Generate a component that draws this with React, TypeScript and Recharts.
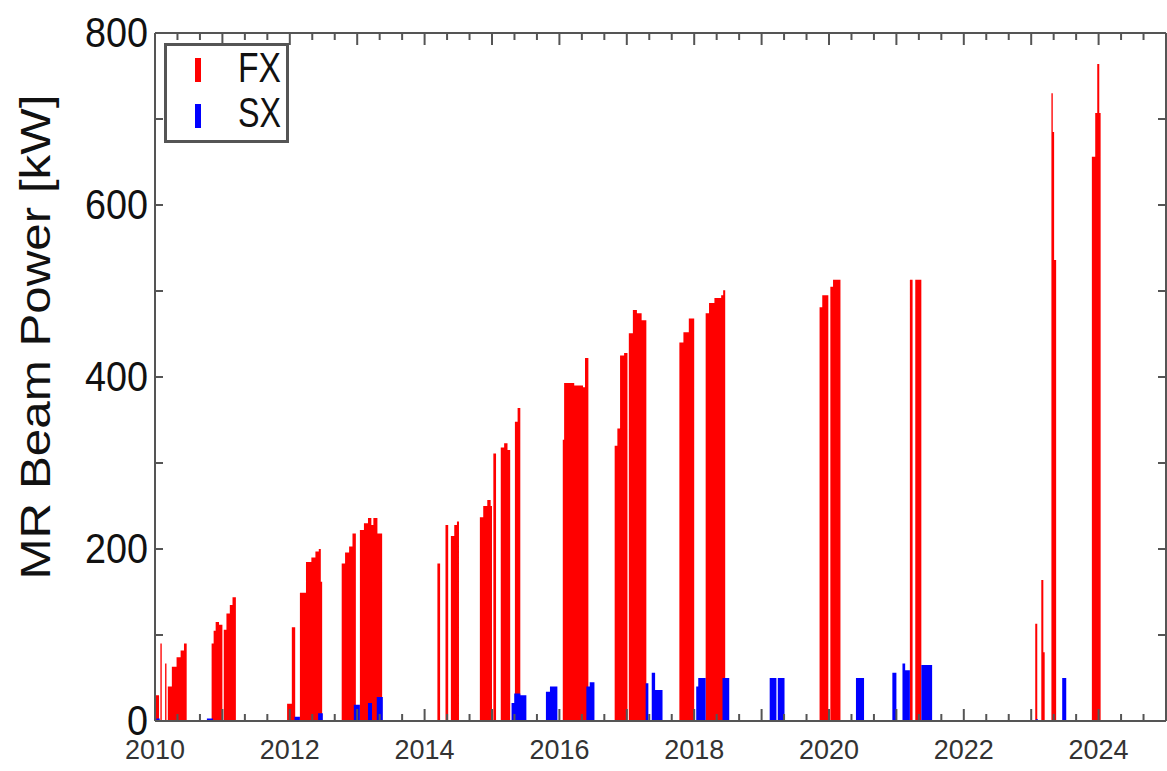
import React from 'react';
import { ComposedChart, Area, XAxis, YAxis, Legend } from 'recharts';

const fxYear = [
  2010.0, 2010.06, 2010.08, 2010.1, 2010.15, 2010.17, 2010.19, 2010.25, 2010.32, 2010.38, 2010.43, 2010.47,
  2010.84, 2010.87, 2010.9, 2010.95, 2011.0, 2011.02, 2011.06, 2011.11, 2011.15, 2011.2,
  2011.96, 2012.03, 2012.08, 2012.15, 2012.24, 2012.32, 2012.38, 2012.43, 2012.46, 2012.48,
  2012.77, 2012.82, 2012.88, 2012.93, 2012.98, 2013.04, 2013.1, 2013.16, 2013.21, 2013.24, 2013.3, 2013.37,
  2014.19, 2014.23, 2014.31, 2014.35, 2014.39, 2014.44, 2014.48, 2014.51,
  2014.82, 2014.87, 2014.93, 2014.98, 2015.0, 2015.02, 2015.06, 2015.13, 2015.18, 2015.23, 2015.27, 2015.34, 2015.38, 2015.42,
  2016.05, 2016.07, 2016.22, 2016.35, 2016.38, 2016.43,
  2016.82, 2016.86, 2016.9, 2016.96, 2017.01, 2017.03, 2017.09, 2017.15, 2017.22, 2017.29,
  2017.78, 2017.84, 2017.92, 2018.0, 2018.17, 2018.22, 2018.3, 2018.4, 2018.43, 2018.46,
  2019.86, 2019.9, 2019.99, 2020.02, 2020.06, 2020.17,
  2021.2, 2021.24, 2021.28, 2021.37,
  2023.06, 2023.09, 2023.15, 2023.18, 2023.2, 2023.3, 2023.32, 2023.34, 2023.37,
  2023.9, 2023.95, 2023.98, 2024.01, 2024.03,
];
const fxPower = [
  30, 0, 90, 0, 67, 0, 40, 63, 74, 82, 90, 0,
  90, 105, 115, 112, 0, 106, 125, 135, 144, 0,
  20, 109, 0, 149, 185, 190, 197, 200, 162, 0,
  183, 196, 203, 218, 0, 222, 230, 236, 228, 236, 218, 0,
  183, 0, 228, 0, 215, 228, 232, 0,
  237, 250, 257, 250, 0, 311, 0, 318, 323, 315, 0, 348, 364, 0,
  327, 393, 390, 388, 422, 0,
  320, 340, 425, 428, 0, 451, 478, 474, 466, 0,
  440, 452, 468, 0, 474, 486, 492, 495, 501, 0,
  481, 495, 0, 505, 513, 0,
  513, 0, 513, 0,
  113, 0, 164, 80, 0, 730, 685, 536, 0,
  656, 707, 764, 707, 0,
];

// SX (slow extraction) beam power
const sxYear = [
  2010.02, 2010.07, 2010.77, 2010.86, 2012.07, 2012.15, 2012.42, 2012.49,
  2012.95, 2013.04, 2013.16, 2013.22, 2013.29, 2013.38,
  2015.29, 2015.33, 2015.42, 2015.51, 2015.8, 2015.86, 2015.97, 2016.4, 2016.45, 2016.52,
  2017.28, 2017.32, 2017.37, 2017.42, 2017.53, 2018.03, 2018.06, 2018.17, 2018.42, 2018.52,
  2019.12, 2019.22, 2019.24, 2019.34, 2020.4, 2020.52,
  2020.94, 2021.0, 2021.09, 2021.13, 2021.2, 2021.37, 2021.53,
  2023.07, 2023.1, 2023.46, 2023.52,
];
const sxPower = [
  3, 0, 3, 0, 5, 0, 9, 0,
  19, 0, 21, 0, 28, 0,
  21, 32, 30, 0, 34, 40, 0, 40, 45, 0,
  44, 0, 56, 36, 0, 40, 50, 0, 50, 0,
  50, 0, 50, 0, 50, 0,
  56, 0, 67, 59, 0, 65, 0,
  2, 0, 50, 0,
];

const yearLabels = [2010, 2012, 2014, 2016, 2018, 2020, 2022, 2024];
const powerLabels = [0, 200, 400, 600, 800];

const xTicks = Array.from({ length: 46 }, (_, i) => 2010 + i / 3);
const yTicks = [0, 100, 200, 300, 400, 500, 600, 700, 800];

type Row = { t: number; fx?: number; sx?: number };
const rows: Row[] = [
  ...fxYear.map((t, i) => ({ t, fx: fxPower[i] })),
  ...sxYear.map((t, i) => ({ t, sx: sxPower[i] })),
].sort((a, b) => a.t - b.t);

const FONT = '"Liberation Sans", Arial, Helvetica, sans-serif';
const AXIS = '#555';

const isWhole = (v: number) => Math.abs(v - Math.round(v)) < 1e-6;

const BottomTick = ({ x, y, payload }: any) => {
  const v = payload.value;
  const major = isWhole(v);
  const yr = Math.round(v);
  return (
    <g>
      <line x1={x} x2={x} y1={y} y2={y - (major ? 12 : 7)} stroke={AXIS} strokeWidth={2} />
      {major && yearLabels.includes(yr) && (
        <text
          x={x}
          y={y + 38}
          textAnchor="middle"
          fontSize={27}
          fill="#333"
          fontFamily={FONT}
          textLength={60}
          lengthAdjust="spacingAndGlyphs"
        >
          {yr}
        </text>
      )}
    </g>
  );
};

const TopTick = ({ x, y, payload }: any) => {
  const major = isWhole(payload.value);
  return <line x1={x} x2={x} y1={y} y2={y + (major ? 12 : 7)} stroke={AXIS} strokeWidth={2} />;
};

const LeftTick = ({ x, y, payload }: any) => {
  const v = payload.value;
  const label = String(v);
  return (
    <g>
      <line x1={x} x2={x + 8} y1={y} y2={y} stroke={AXIS} strokeWidth={2} />
      {powerLabels.includes(v) && (
        <text
          x={x - 7}
          y={y + 14}
          textAnchor="end"
          fontSize={42}
          fill="#111"
          fontFamily={FONT}
          textLength={label.length * 21}
          lengthAdjust="spacingAndGlyphs"
        >
          {label}
        </text>
      )}
    </g>
  );
};

const RightTick = ({ x, y }: any) => (
  <line x1={x} x2={x - 8} y1={y} y2={y} stroke={AXIS} strokeWidth={2} />
);

const YTitle = () => (
  <text
    x={50}
    y={337}
    transform="rotate(-90 50 337)"
    textAnchor="middle"
    fontSize={42}
    fill="#111"
    fontFamily={FONT}
    textLength={485}
    lengthAdjust="spacingAndGlyphs"
  >
    MR Beam Power [kW]
  </text>
);

const LegendBox = ({ payload }: any) => (
  <div
    style={{
      width: 125,
      height: 100,
      border: `3px solid ${AXIS}`,
      boxSizing: 'border-box',
      background: '#fff',
    }}
  >
    <svg width={119} height={94} style={{ display: 'block', overflow: 'visible' }}>
      {(payload || []).map((entry: any, i: number) => (
        <g key={entry.value}>
          <rect x={28} y={12 + i * 46} width={6} height={24} fill={entry.color} />
          <text
            x={71}
            y={36 + i * 45}
            fontSize={42}
            fill="#111"
            fontFamily={FONT}
            textLength={43}
            lengthAdjust="spacingAndGlyphs"
          >
            {entry.value}
          </text>
        </g>
      ))}
    </svg>
  </div>
);

export default function App() {
  return (
    <div style={{ width: 1167, height: 771, background: '#fff' }}>
      <style>{'body{margin:0}'}</style>
      <ComposedChart
        width={1167}
        height={771}
        data={rows}
        margin={{ top: 32, right: 0, bottom: 49, left: 154 }}
      >
        <XAxis
          xAxisId="bottom"
          dataKey="t"
          type="number"
          domain={[2010, 2025]}
          allowDataOverflow
          ticks={xTicks}
          interval={0}
          height={1}
          tickSize={0}
          tickMargin={0}
          tickLine={false}
          tick={<BottomTick />}
          axisLine={{ stroke: AXIS, strokeWidth: 2 }}
        />
        <XAxis
          xAxisId="top"
          orientation="top"
          dataKey="t"
          type="number"
          domain={[2010, 2025]}
          allowDataOverflow
          ticks={xTicks}
          interval={0}
          height={1}
          tickSize={0}
          tickMargin={0}
          tickLine={false}
          tick={<TopTick />}
          axisLine={{ stroke: AXIS, strokeWidth: 2 }}
        />
        <YAxis
          yAxisId="left"
          type="number"
          domain={[0, 800]}
          allowDataOverflow
          ticks={yTicks}
          interval={0}
          width={1}
          tickSize={0}
          tickMargin={0}
          tickLine={false}
          tick={<LeftTick />}
          axisLine={{ stroke: AXIS, strokeWidth: 2 }}
          label={<YTitle />}
        />
        <YAxis
          yAxisId="right"
          orientation="right"
          type="number"
          domain={[0, 800]}
          allowDataOverflow
          ticks={yTicks}
          interval={0}
          width={1}
          tickSize={0}
          tickMargin={0}
          tickLine={false}
          tick={<RightTick />}
          axisLine={{ stroke: AXIS, strokeWidth: 2 }}
        />
        <Legend
          layout="horizontal"
          verticalAlign="middle"
          align="center"
          content={<LegendBox />}
          wrapperStyle={{ left: 164, top: 43, width: 125, height: 100 }}
        />
        <Area
          xAxisId="bottom"
          yAxisId="left"
          type="stepAfter"
          dataKey="fx"
          name="FX"
          stroke="none"
          fill="#ff0000"
          fillOpacity={1}
          connectNulls
          dot={false}
          activeDot={false}
          isAnimationActive={false}
        />
        <Area
          xAxisId="bottom"
          yAxisId="left"
          type="stepAfter"
          dataKey="sx"
          name="SX"
          stroke="none"
          fill="#0000ff"
          fillOpacity={1}
          connectNulls
          dot={false}
          activeDot={false}
          isAnimationActive={false}
        />
      </ComposedChart>
    </div>
  );
}
